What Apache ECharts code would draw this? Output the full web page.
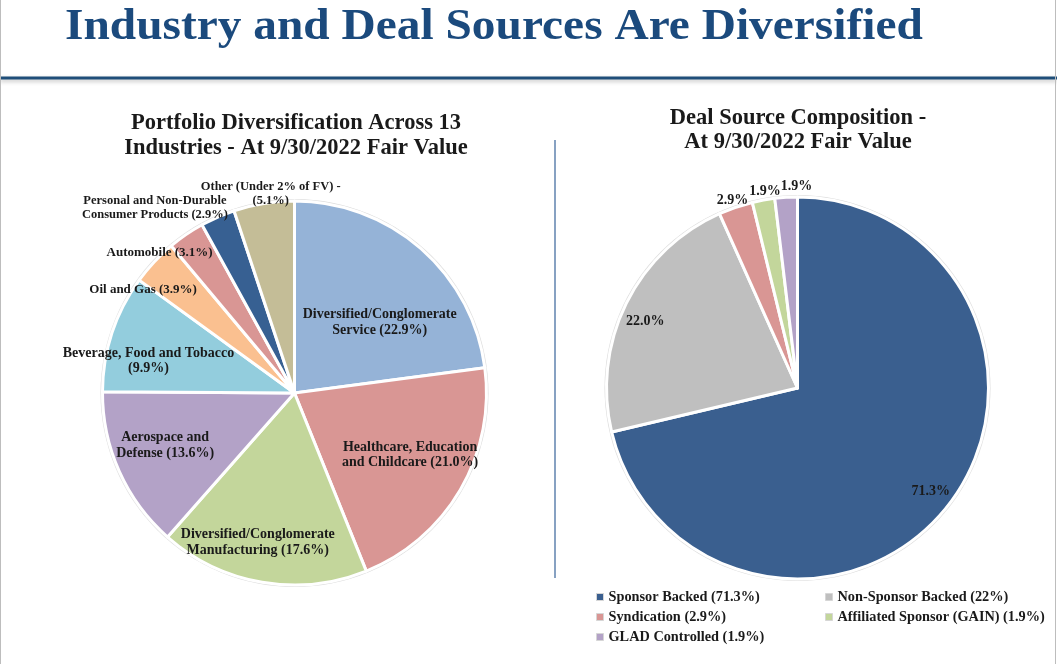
<!DOCTYPE html>
<html>
<head>
<meta charset="utf-8">
<script src="https://cdn.jsdelivr.net/npm/echarts@6/dist/echarts.min.js"></script>
<style>
html,body{margin:0;padding:0;background:#fff;}
#chart{width:1057px;height:664px;}
</style>
</head>
<body>
<div id="chart"></div>
<script>
// ---- Data ----
const industryNames = [
  'Diversified/Conglomerate Service',
  'Healthcare, Education and Childcare',
  'Diversified/Conglomerate Manufacturing',
  'Aerospace and Defense',
  'Beverage, Food and Tobacco',
  'Oil and Gas',
  'Automobile',
  'Personal and Non-Durable Consumer Products',
  'Other (Under 2% of FV)'
];
const industryValues = [22.9, 21.0, 17.6, 13.6, 9.9, 3.9, 3.1, 2.9, 5.1];
const industryLabels = [
  'Diversified/Conglomerate\nService (22.9%)',
  'Healthcare, Education\nand Childcare (21.0%)',
  'Diversified/Conglomerate\nManufacturing (17.6%)',
  'Aerospace and\nDefense (13.6%)',
  'Beverage, Food and Tobacco\n(9.9%)',
  'Oil and Gas (3.9%)',
  'Automobile (3.1%)',
  'Personal and Non-Durable\nConsumer Products (2.9%)',
  'Other (Under 2% of FV) -\n(5.1%)'
];

const sourceNames = ['Sponsor Backed', 'Non-Sponsor Backed', 'Syndication', 'Affiliated Sponsor (GAIN)', 'GLAD Controlled'];
const sourceValues = [71.3, 22.0, 2.9, 1.9, 1.9];
const sourceLabels = ['71.3%', '22.0%', '2.9%', '1.9%', '1.9%'];
const sourceLegendLabels = ['Sponsor Backed (71.3%)', 'Non-Sponsor Backed (22%)', 'Syndication (2.9%)', 'Affiliated Sponsor (GAIN) (1.9%)', 'GLAD Controlled (1.9%)'];
const legendColumn1 = ['Sponsor Backed', 'Syndication', 'GLAD Controlled'];
const legendColumn2 = ['Non-Sponsor Backed', 'Affiliated Sponsor (GAIN)'];

// ---- Styles ----
const industryColors = ['#95B3D7', '#D99694', '#C3D69B', '#B3A2C7', '#93CDDD', '#FAC090', '#D99694', '#376092', '#C4BD97'];
const sourceColors = ['#3A5F8F', '#BFBFBF', '#D99694', '#C3D69B', '#B3A2C7'];
const industryLabelShift = [[20, 4], [30, 12], [-20, 52], [-39, 12], [-52, -1], [-79, -36], [-79, -59], [-100, -95], [-8, -102]];
const industryLabelSize = [14, 14, 14, 14, 14, 13, 13, 12.5, 12.5];
const sourceLabelShift = [[56, 42], [-64, -23], [-33, -94], [-15, -100], [5, -103]];

const serif = '"Liberation Serif", "Times New Roman", serif';
const chart = echarts.init(document.getElementById('chart'), null, {renderer: 'canvas'});

const legendMap = {};
sourceNames.forEach((n, i) => legendMap[n] = sourceLegendLabels[i]);
const legendText = {fontFamily: serif, fontWeight: 'bold', fontSize: 14.3, color: '#1a1a1a'};
const legendItemStyle = {borderColor: '#d6d6d6', borderWidth: 1};

const option = {
  backgroundColor: '#ffffff',
  animation: false,
  title: [
    {text: 'Portfolio Diversification Across 13\nIndustries - At 9/30/2022 Fair Value', left: 291, top: 106, textAlign: 'center',
     textStyle: {fontFamily: serif, fontWeight: 'bold', fontSize: 22.5, lineHeight: 25, color: '#1a1a1a'}},
    {text: 'Deal Source Composition -\nAt 9/30/2022 Fair Value', left: 793, top: 101, textAlign: 'center',
     textStyle: {fontFamily: serif, fontWeight: 'bold', fontSize: 22.5, lineHeight: 24, color: '#1a1a1a'}}
  ],
  graphic: [
    {type: 'text', x: 65, y: 5, scaleX: 1.053,
     style: {text: 'Industry and Deal Sources Are Diversified', fill: '#1B4A7D',
       font: 'bold 45px "Liberation Serif", "Times New Roman", serif', verticalAlign: 'top', align: 'left'}},
    {type: 'line', shape: {x1: 0, y1: 78, x2: 1057, y2: 78}, style: {stroke: '#1F4E79', lineWidth: 3, shadowBlur: 4, shadowColor: 'rgba(0,0,0,0.25)', shadowOffsetY: 2}},
    {type: 'line', shape: {x1: 555, y1: 140, x2: 555, y2: 578}, style: {stroke: '#5F82AE', lineWidth: 1.5}},
    {type: 'line', shape: {x1: 0.5, y1: 0, x2: 0.5, y2: 664}, style: {stroke: '#bdbdbd', lineWidth: 1}},
    {type: 'line', shape: {x1: 1055.5, y1: 0, x2: 1055.5, y2: 664}, style: {stroke: '#bdbdbd', lineWidth: 1}}
  ],
  legend: [
    {data: legendColumn1, left: 591, top: 585, orient: 'vertical', itemWidth: 7, itemHeight: 7, itemGap: 6,
     icon: 'rect', itemStyle: legendItemStyle, formatter: n => legendMap[n], textStyle: legendText, selectedMode: false},
    {data: legendColumn2, left: 820, top: 585, orient: 'vertical', itemWidth: 7, itemHeight: 7, itemGap: 6,
     icon: 'rect', itemStyle: legendItemStyle, formatter: n => legendMap[n], textStyle: legendText, selectedMode: false}
  ],
  series: [
    {type: 'pie', silent: true, center: [294.5, 393], radius: 194, label: {show: false}, labelLine: {show: false},
     itemStyle: {color: '#dcdcdc'}, data: [{value: 1, name: 'bgL'}], z: 1},
    {type: 'pie', silent: true, center: [797.5, 388], radius: 193, label: {show: false}, labelLine: {show: false},
     itemStyle: {color: '#dcdcdc'}, data: [{value: 1, name: 'bgR'}], z: 1},
    {
      type: 'pie', name: 'industries', center: [294.5, 393], radius: 192, startAngle: 90, clockwise: true,
      avoidLabelOverlap: false, z: 2,
      itemStyle: {borderColor: '#ffffff', borderWidth: 3},
      label: {show: true, position: 'inside', fontFamily: serif, fontWeight: 'bold', color: '#1a1a1a', lineHeight: 15.5,
        formatter: p => industryLabels[p.dataIndex]},
      labelLine: {show: false},
      labelLayout: p => ({dx: industryLabelShift[p.dataIndex][0], dy: industryLabelShift[p.dataIndex][1]}),
      data: industryNames.map((n, i) => ({name: n, value: industryValues[i], itemStyle: {color: industryColors[i]},
        label: {fontSize: industryLabelSize[i], lineHeight: industryLabelSize[i] < 14 ? 14 : 15.5}}))
    },
    {
      type: 'pie', name: 'sources', center: [797.5, 388], radius: 191, startAngle: 90, clockwise: true,
      avoidLabelOverlap: false, z: 2,
      itemStyle: {borderColor: '#ffffff', borderWidth: 3},
      label: {show: true, position: 'inside', fontFamily: serif, fontWeight: 'bold', fontSize: 14, color: '#1a1a1a',
        formatter: p => sourceLabels[p.dataIndex]},
      labelLine: {show: false},
      labelLayout: p => ({dx: sourceLabelShift[p.dataIndex][0], dy: sourceLabelShift[p.dataIndex][1]}),
      data: sourceNames.map((n, i) => ({name: n, value: sourceValues[i], itemStyle: {color: sourceColors[i]}}))
    }
  ]
};
chart.setOption(option);
</script>
</body>
</html>
